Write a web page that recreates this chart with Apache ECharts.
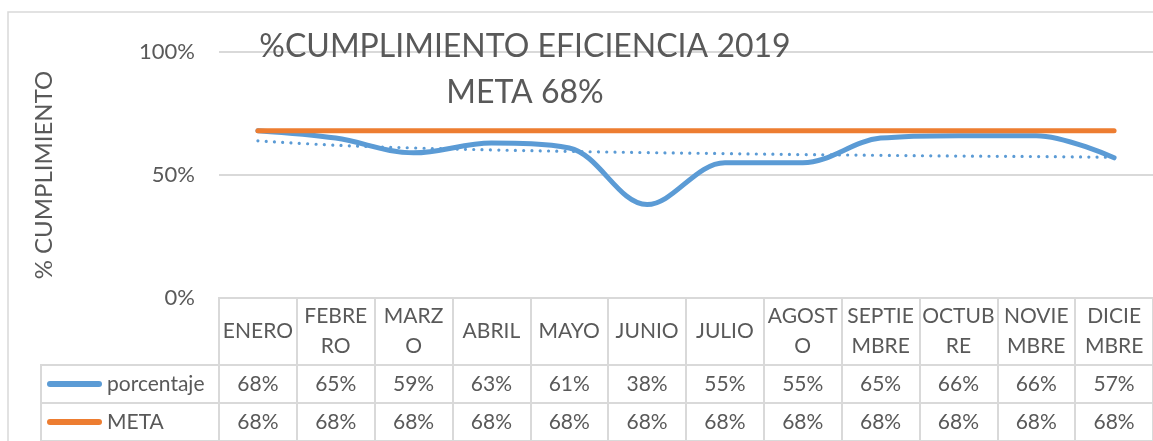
<!DOCTYPE html>
<html>
<head>
<meta charset="utf-8">
<script src="https://cdn.jsdelivr.net/npm/echarts@6/dist/echarts.min.js"></script>
<style>
html,body{margin:0;padding:0;background:#fff;}
#c{width:1153px;height:441px;}
</style>
</head>
<body>
<div id="c"></div>
<script>
const months = ['ENERO','FEBRERO','MARZO','ABRIL','MAYO','JUNIO','JULIO','AGOSTO','SEPTIEMBRE','OCTUBRE','NOVIEMBRE','DICIEMBRE'];
const headerLabels = ['ENERO','FEBRE\nRO','MARZ\nO','ABRIL','MAYO','JUNIO','JULIO','AGOST\nO','SEPTIE\nMBRE','OCTUB\nRE','NOVIE\nMBRE','DICIE\nMBRE'];
const porcentaje = [68,65,59,63,61,38,55,55,65,66,66,57];
const meta = [68,68,68,68,68,68,68,68,68,68,68,68];
const tendencia = [63.9,62.1,61.0,60.2,59.6,59.1,58.7,58.3,58.0,57.7,57.5,57.2];
const yMin = 0, yMax = 100, yStep = 50;
const titleLines = ['%CUMPLIMIENTO EFICIENCIA 2019','META 68%'];
const yName = '% CUMPLIMIENTO';
const seriesNames = ['porcentaje','META'];

const FONT = 'Lato';
const TXT = '#595959';
const LINE = '#d9d9d9';
const BLUE = '#5b9bd5';
const ORANGE = '#ed7d31';

const chart = echarts.init(document.getElementById('c'));
const colW = 941;
const tableLabelStyle = {color: TXT, fontFamily: FONT, fontSize: 21};

chart.setOption({
  animation: false,
  textStyle: {fontFamily: FONT},
  graphic: [
    {type: 'rect', shape: {x: 8, y: 12, width: 1300, height: 600},
     style: {fill: 'none', stroke: LINE, lineWidth: 1.5}, silent: true, z: -10},
    {type: 'text', x: 525, y: 47, style: {text: titleLines[0], fill: TXT, font: '32px Lato', textAlign: 'center', textVerticalAlign: 'middle'}, z: 10},
    {type: 'text', x: 525, y: 93, style: {text: titleLines[1], fill: TXT, font: '32px Lato', textAlign: 'center', textVerticalAlign: 'middle'}, z: 10}
  ],
  legend: {
    data: seriesNames,
    orient: 'vertical',
    left: 47, top: 372, padding: 0,
    itemWidth: 55, itemHeight: 6, itemGap: 14,
    icon: 'path://M3,0 L52,0 A3,3 0 0 1 52,6 L3,6 A3,3 0 0 1 3,0 Z',
    textStyle: {color: TXT, fontFamily: FONT, fontSize: 21, lineHeight: 24, padding: [0,0,0,0]},
    selectedMode: false
  },
  grid: [
    {left: 219, top: 52, width: colW, height: 246},
    {left: 219, top: 298, width: colW, height: 300, show: true, borderColor: LINE, borderWidth: 2},
    {left: 41, top: 365, width: 178, height: 300, show: true, borderColor: LINE, borderWidth: 2}
  ],
  xAxis: [
    {gridIndex: 0, type: 'category', data: months, boundaryGap: true, show: false},
    {gridIndex: 1, type: 'category', data: months, position: 'top', boundaryGap: true,
     axisLine: {show: true, onZero: false, lineStyle: {color: LINE, width: 2}},
     axisTick: {show: false},
     splitLine: {show: true, lineStyle: {color: LINE, width: 2}},
     axisLabel: Object.assign({inside: true, margin: 33, verticalAlign: 'middle', lineHeight: 30, interval: 0,
       formatter: (v, i) => headerLabels[i]}, tableLabelStyle)},
    {gridIndex: 1, type: 'category', data: months, position: 'top', offset: -67, boundaryGap: true,
     axisLine: {show: true, onZero: false, lineStyle: {color: LINE, width: 2}},
     axisTick: {show: false}, splitLine: {show: false},
     axisLabel: Object.assign({inside: true, margin: 19, verticalAlign: 'middle', interval: 0,
       formatter: (v, i) => porcentaje[i] + '%'}, tableLabelStyle)},
    {gridIndex: 1, type: 'category', data: months, position: 'top', offset: -105, boundaryGap: true,
     axisLine: {show: true, onZero: false, lineStyle: {color: LINE, width: 2}},
     axisTick: {show: false}, splitLine: {show: false},
     axisLabel: Object.assign({inside: true, margin: 19, verticalAlign: 'middle', interval: 0,
       formatter: (v, i) => meta[i] + '%'}, tableLabelStyle)},
    {gridIndex: 2, type: 'category', data: ['a'], position: 'top', offset: -38,
     axisLine: {show: true, onZero: false, lineStyle: {color: LINE, width: 2}},
     axisTick: {show: false}, axisLabel: {show: false}, splitLine: {show: false}}
  ],
  yAxis: [
    {gridIndex: 0, type: 'value', min: yMin, max: yMax, interval: yStep,
     axisLine: {show: false}, axisTick: {show: false},
     splitLine: {lineStyle: {color: LINE, width: 2}},
     axisLabel: {formatter: '{value}%', color: TXT, fontFamily: FONT, fontSize: 22, margin: 24},
     name: yName, nameLocation: 'middle', nameRotate: 90, nameGap: 163,
     nameTextStyle: {color: TXT, fontFamily: FONT, fontSize: 24}},
    {gridIndex: 1, type: 'value', show: false},
    {gridIndex: 2, type: 'value', show: false}
  ],
  series: [
    {name: seriesNames[0], type: 'line', xAxisIndex: 0, yAxisIndex: 0, data: porcentaje,
     smooth: 0.35, showSymbol: false, symbol: 'none', color: BLUE,
     lineStyle: {color: BLUE, width: 5, cap: 'round', join: 'round'}, z: 2},
    {name: seriesNames[1], type: 'line', xAxisIndex: 0, yAxisIndex: 0, data: meta,
     showSymbol: false, symbol: 'none', color: ORANGE,
     lineStyle: {color: ORANGE, width: 5, cap: 'round'}, z: 3},
    {name: 'tendencia', type: 'line', xAxisIndex: 0, yAxisIndex: 0, data: tendencia,
     smooth: 0.35, showSymbol: false, symbol: 'none', color: BLUE,
     lineStyle: {color: BLUE, width: 3.2, type: [0.01, 8.3], cap: 'round'}, z: 4}
  ]
});
</script>
</body>
</html>
